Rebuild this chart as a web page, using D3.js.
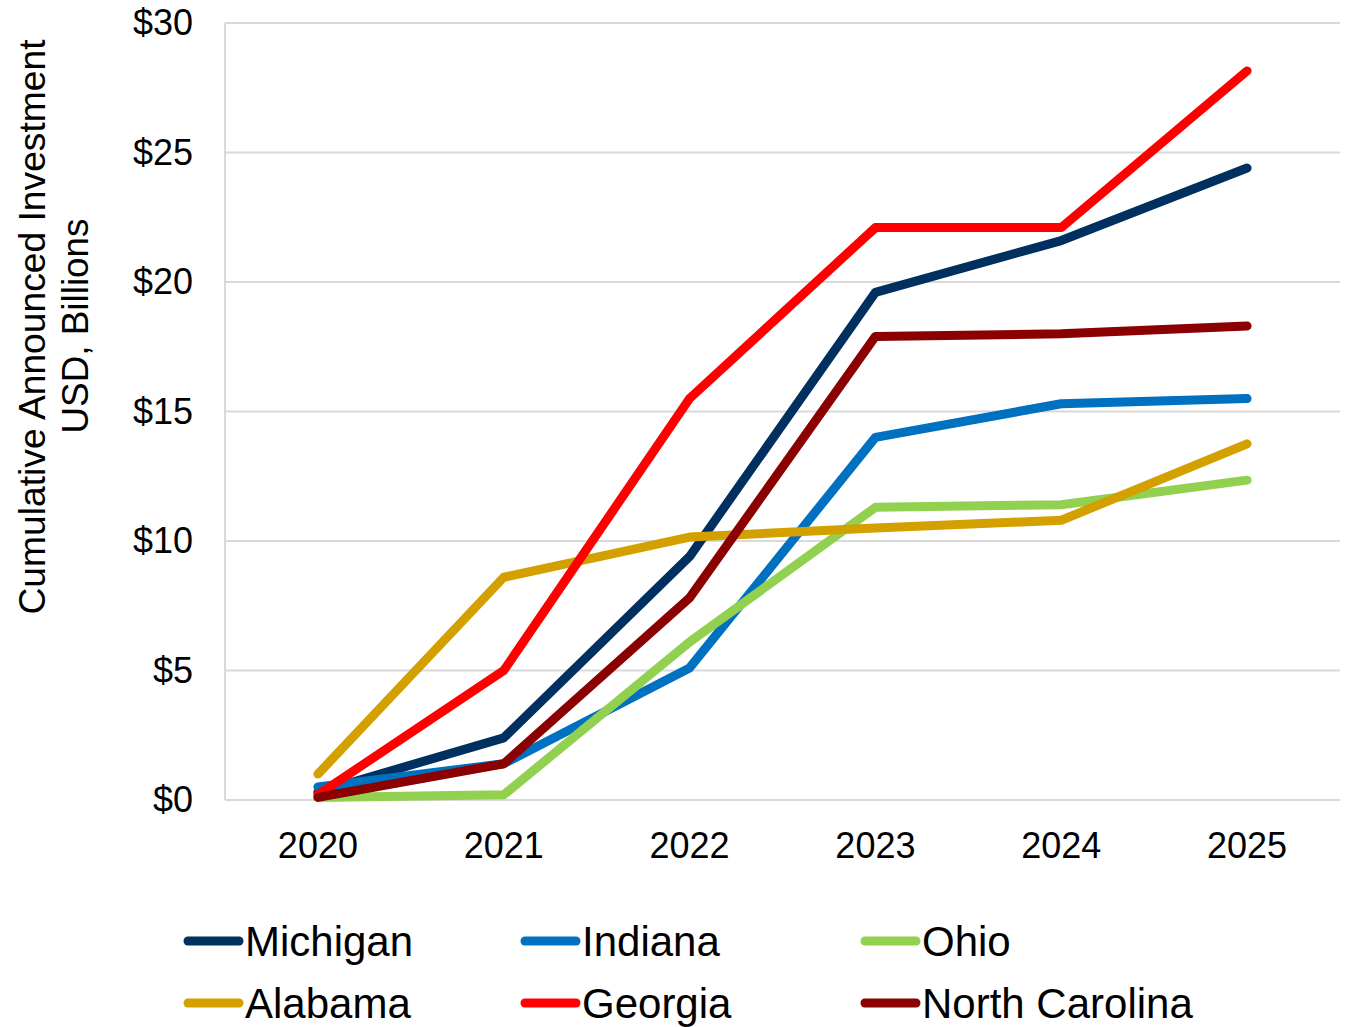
<!DOCTYPE html>
<head>
  <meta charset="utf-8">
  <script src="https://d3js.org/d3.v7.min.js"></script>
  <style>
    body { margin: 0; background: #fff; }
    text { font-family: "Liberation Sans", Arial, sans-serif; fill: #000; }
    .grid line { stroke: #d9d9d9; stroke-width: 2px; }
    .series { fill: none; stroke-width: 9px; stroke-linecap: round; stroke-linejoin: round; }
  </style>
</head>
<body>
  <svg width="1352" height="1027"></svg>
  <script>
    var years = ["2020", "2021", "2022", "2023", "2024", "2025"];
    var yTicks = [0, 5, 10, 15, 20, 25, 30];

    var michigan = [0.3, 2.4, 9.4, 19.6, 21.6, 24.4];
    var indiana = [0.5, 1.4, 5.1, 14.0, 15.3, 15.5];
    var ohio = [0.1, 0.2, 6.1, 11.3, 11.4, 12.35];
    var alabama = [1.0, 8.6, 10.15, 10.5, 10.8, 13.75];
    var georgia = [0.2, 5.0, 15.5, 22.1, 22.1, 28.15];
    var northCarolina = [0.1, 1.4, 7.8, 17.9, 18.0, 18.3];

    var names = ["Michigan", "Indiana", "Ohio", "Alabama", "Georgia", "North Carolina"];
    var colors = ["#00305f", "#0070c0", "#92d050", "#d4a000", "#ff0000", "#8b0000"];
    var seriesValues = [michigan, indiana, ohio, alabama, georgia, northCarolina];

    var svg = d3.select("svg");
    var margin = { top: 23, right: 12, bottom: 227, left: 225 };
    var width = 1352 - margin.left - margin.right;
    var height = 1027 - margin.top - margin.bottom;

    var x = d3.scaleBand().domain(years).range([0, width]);
    var y = d3.scaleLinear().domain([0, 30]).range([height, 0]);

    var g = svg.append("g")
      .attr("transform", "translate(" + margin.left + "," + margin.top + ")");

    // gridlines
    g.append("g")
      .attr("class", "grid")
      .selectAll("line")
      .data(yTicks)
      .enter().append("line")
      .attr("x1", 0)
      .attr("x2", width)
      .attr("y1", function (d) { return y(d); })
      .attr("y2", function (d) { return y(d); });

    g.append("line")
      .attr("x1", 0).attr("x2", 0)
      .attr("y1", 0).attr("y2", height)
      .attr("stroke", "#d9d9d9").attr("stroke-width", 2);

    // y axis labels
    var yAxis = d3.axisLeft(y)
      .tickValues(yTicks)
      .tickSize(0)
      .tickPadding(32)
      .tickFormat(function (d) { return "$" + d; });
    var ya = g.append("g").call(yAxis);
    ya.select(".domain").remove();
    ya.selectAll("text")
      .style("font-size", "36px")
      .style("font-family", "Liberation Sans, Arial, sans-serif")
      .attr("fill", "#000");

    // x axis labels
    var xAxis = d3.axisBottom(x).tickSize(0).tickPadding(32);
    var xa = g.append("g")
      .attr("transform", "translate(0," + height + ")")
      .call(xAxis);
    xa.select(".domain").remove();
    xa.selectAll("text")
      .style("font-size", "36px")
      .style("font-family", "Liberation Sans, Arial, sans-serif")
      .attr("fill", "#000");

    // lines
    var line = d3.line()
      .x(function (d, i) { return x(years[i]) + x.bandwidth() / 2; })
      .y(function (d) { return y(d); });

    g.selectAll(".series")
      .data(seriesValues)
      .enter().append("path")
      .attr("class", "series")
      .attr("stroke", function (d, i) { return colors[i]; })
      .attr("d", line);

    // axis title
    svg.append("text")
      .attr("transform", "translate(45,327) rotate(-90)")
      .attr("text-anchor", "middle")
      .attr("textLength", 575)
      .attr("lengthAdjust", "spacingAndGlyphs")
      .style("font-size", "37px")
      .text("Cumulative Announced Investment");
    svg.append("text")
      .attr("transform", "translate(88,326) rotate(-90)")
      .attr("text-anchor", "middle")
      .attr("textLength", 215)
      .attr("lengthAdjust", "spacingAndGlyphs")
      .style("font-size", "37px")
      .text("USD, Billions");

    // legend
    var legX = [185, 522, 862];
    var legY = [941, 1003];
    var leg = svg.selectAll(".leg")
      .data(names)
      .enter().append("g")
      .attr("class", "leg")
      .attr("transform", function (d, i) {
        return "translate(" + legX[i % 3] + "," + legY[Math.floor(i / 3)] + ")";
      });
    leg.append("line")
      .attr("x1", 3).attr("x2", 54)
      .attr("y1", 0).attr("y2", 0)
      .attr("stroke", function (d, i) { return colors[i]; })
      .attr("stroke-width", 9)
      .attr("stroke-linecap", "round");
    leg.append("text")
      .attr("x", 60)
      .attr("y", 15)
      .style("font-size", "42px")
      .text(function (d) { return d; });
  </script>
</body>
